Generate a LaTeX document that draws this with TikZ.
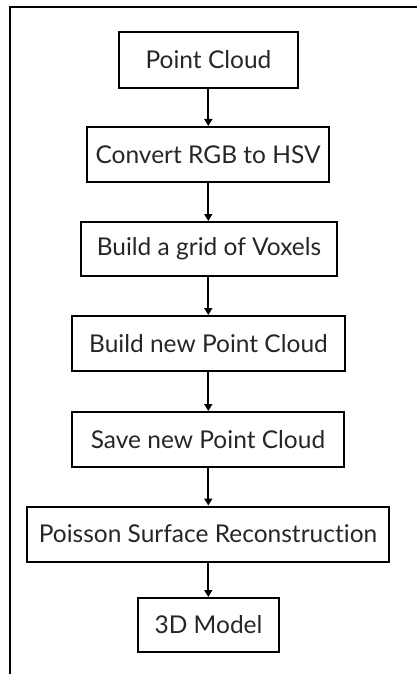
\documentclass[tikz,border=0pt]{standalone}
\usepackage{fontspec}
\setmainfont[Ligatures=NoCommon]{Lato}
\usetikzlibrary{arrows.meta}
\tikzset{
  stepbox/.style={draw, line width=2pt, inner sep=0pt, align=center,
    text=black!85, font=\fontsize{24.5}{29}\selectfont},
  flow/.style={line width=1.8pt, -{Triangle[length=7pt,width=8pt]}},
  frame/.style={line width=1.8pt}
}
\begin{document}
\begin{tikzpicture}[x=1pt,y=-1pt]
\useasboundingbox (0,0) rectangle (417,674);
% open frame: top and left edges only
\draw[frame] (417,7) -- (10,7) -- (10,674);
\node[stepbox, minimum width=179pt, minimum height=56pt] (pc) at (208.5,60) {Point Cloud};
\node[stepbox, minimum width=242pt, minimum height=55pt] (hsv) at (208,154.5) {Convert RGB to HSV};
\node[stepbox, minimum width=256pt, minimum height=54pt] (vox) at (209,249) {Build a grid of Voxels};
\node[stepbox, minimum width=273pt, minimum height=55pt] (npc) at (208.5,343.5) {Build new Point Cloud};
\node[stepbox, minimum width=272pt, minimum height=55pt] (spc) at (208,439.5) {Save new Point Cloud};
\node[stepbox, minimum width=362pt, minimum height=55pt] (psr) at (208,534) {Poisson Surface Reconstruction};
\node[stepbox, minimum width=141pt, minimum height=54pt] (model) at (208.5,625) {3D Model};
\foreach \a/\b in {pc/hsv, hsv/vox, vox/npc, npc/spc, spc/psr, psr/model}
  \draw[flow] (\a.south -| 208.3,0) -- (\b.north -| 208.3,0);
\end{tikzpicture}
\end{document}
